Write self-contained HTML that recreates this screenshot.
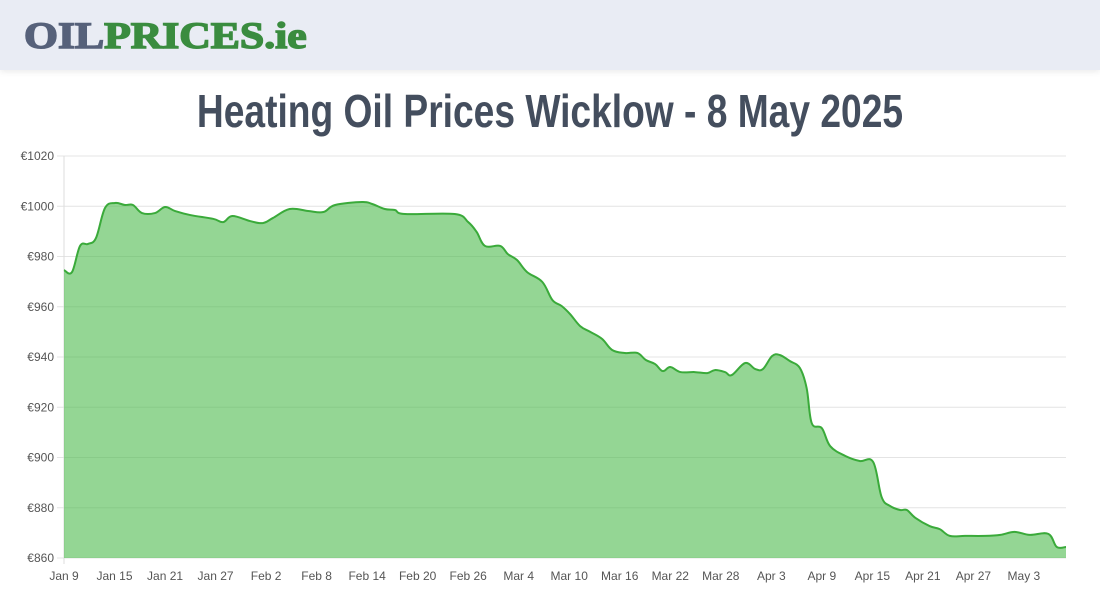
<!DOCTYPE html>
<html><head><meta charset="utf-8"><style>
body{margin:0;width:1100px;height:600px;background:#fff;overflow:hidden;font-family:"Liberation Sans",sans-serif}
#hdr{position:absolute;left:0;top:0;width:1100px;height:70px;background:#e9ecf4;box-shadow:0 2px 6px rgba(0,0,0,.08)}
#logo{position:absolute;left:24px;top:15px;font:bold 37px "Liberation Serif",serif;letter-spacing:0px;transform:scaleX(1.18);transform-origin:left;white-space:nowrap}
#logo span{-webkit-text-stroke:1.5px currentColor}
#title{position:absolute;left:0;width:1100px;top:84px;text-align:center}
#title span{display:inline-block;font:bold 46px "Liberation Sans",sans-serif;color:#444e5e;transform:scaleX(0.808)}
svg{position:absolute;left:0;top:0}
</style></head><body>
<div id="hdr"><div id="logo"><span style="color:#56617a">OIL</span><span style="color:#3a8c3f">PRICES.ie</span></div></div>
<div id="title"><span>Heating Oil Prices Wicklow - 8 May 2025</span></div>
<svg id="chart" width="1100" height="600"></svg>
<script>
const days=[0,0.95,1.9,2.85,3.8,4.87,6.06,7.24,8.19,9.26,10.8,12,13.2,15,17.7,18.9,20,22.1,23.6,24.8,26.8,29,30.8,32.2,35.4,36.6,38.1,39.3,40.5,46.4,48,49,50,51.8,52.7,53.8,55,56.8,58,59.1,60.1,61.3,62.5,63.9,65.1,66.6,68.1,69.1,70.2,71.1,72,73.2,74.9,76.4,77.3,78.5,79.3,80.9,82.1,83,84.1,85,86.2,87.4,88.2,88.8,90,91,92.8,94.5,96.1,97.1,98.1,99.3,100.1,101.1,102.8,104,105.2,107,109.4,111.2,112.9,114.7,116.9,117.9,119];
const prices=[974.6,973.8,984.2,985,987.4,999.3,1001.3,1000.5,1000.5,997.3,997.3,999.7,998.1,996.5,995,993.7,996.1,994.1,993.3,995.3,998.9,998.1,997.7,1000.5,1001.7,1000.9,998.9,998.5,996.9,996.9,993.7,989.8,984.2,984.2,981,978.6,973.8,969.9,962.7,960.3,957.1,952.3,950,947.2,942.8,941.6,941.6,938.8,937.2,934.4,936,934,934,933.6,934.8,934,932.8,937.6,935.2,935.2,940.4,940.8,938.4,935.6,927.6,913.7,911.7,904.5,900.6,898.6,898.2,884.3,880.7,879.1,879.1,876,872.7,871.5,868.8,868.8,868.8,869.2,870.4,869.2,869.6,864.4,864.4];
const yTicks=[860,880,900,920,940,960,980,1000,1020];
const xTickLabels=["Jan 9","Jan 15","Jan 21","Jan 27","Feb 2","Feb 8","Feb 14","Feb 20","Feb 26","Mar 4","Mar 10","Mar 16","Mar 22","Mar 28","Apr 3","Apr 9","Apr 15","Apr 21","Apr 27","May 3"];
const svg=document.getElementById('chart'),NS='http://www.w3.org/2000/svg';
const X0=64,X1=1066,Y0=558,Y1=156;
const xs=d=>X0+d*(X1-X0)/119, ys=v=>Y0-(v-860)*(Y0-Y1)/160;
function mk(t,a,txt){const e=document.createElementNS(NS,t);for(const k in a)e.setAttribute(k,a[k]);if(txt!=null)e.textContent=txt;svg.appendChild(e);return e;}
yTicks.forEach(v=>{const y=ys(v);
 const g=mk('line',{x1:57,x2:X1,y1:y,y2:y,stroke:'#e4e4e4','stroke-width':1});
 
 const t=mk('text',{x:54,y:y+4,'text-anchor':'end','font-size':12,fill:'#555','font-family':'Liberation Sans'},'€'+v);
 });
const ax=mk('line',{x1:X0,x2:X0,y1:Y1,y2:Y0+6,stroke:'#ddd','stroke-width':1});

xTickLabels.forEach((s,i)=>{const x=xs(i*6);
 const t=mk('text',{x:x,y:580,'text-anchor':'middle','font-size':12,fill:'#555','font-family':'Liberation Sans'},s);
 });
const P=days.map((d,i)=>[xs(d),ys(prices[i])]);
let d='M'+P[0][0]+','+P[0][1];
for(let i=0;i<P.length-1;i++){const p0=P[Math.max(0,i-1)],p1=P[i],p2=P[i+1],p3=P[Math.min(P.length-1,i+2)],k=0.18;
 d+=` C${p1[0]+(p2[0]-p0[0])*k},${p1[1]+(p2[1]-p0[1])*k} ${p2[0]-(p3[0]-p1[0])*k},${p2[1]-(p3[1]-p1[1])*k} ${p2[0]},${p2[1]}`;}
const area=mk('path',{d:d+` L${P[P.length-1][0]},${Y0} L${P[0][0]},${Y0} Z`,fill:'rgba(76,187,76,0.6)',stroke:'none'});

const line=mk('path',{d:d,fill:'none',stroke:'#3aaa3a','stroke-width':2});

</script>
</body></html>
